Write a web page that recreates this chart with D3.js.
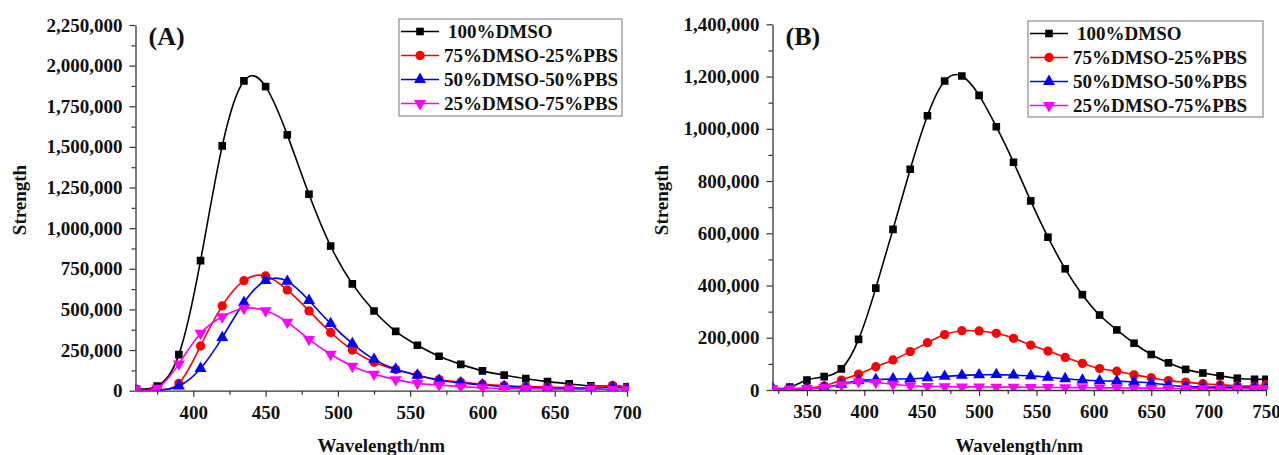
<html>
<head>
<meta charset="utf-8">
<script src="https://d3js.org/d3.v7.min.js"></script>
<style>
  body { margin: 0; background: #fff; }
  svg text { font-family: "Liberation Serif", "Times New Roman", serif; font-weight: bold; fill: #111; }
</style>
</head>
<body>
<div id="chart"></div>
<script>
// ---- data ----
var seriesNames = ["100%DMSO", "75%DMSO-25%PBS", "50%DMSO-50%PBS", "25%DMSO-75%PBS"];
var seriesColors = ["#000000", "#ff0000", "#0000ff", "#ff00ff"];

// panel (A)
var wavelengthA = [360,375,390,405,420,435,450,465,480,495,510,525,540,555,570,585,600,615,630,645,660,675,690,700];
var dmso100A = [10000,28000,222000,800000,1506000,1906000,1871000,1574000,1209000,890000,657000,490000,365000,280000,212000,162000,122000,96000,74000,56000,42000,30000,27000,24000];
var dmso75A  = [5000,8000,45000,275000,522000,677000,706000,620000,491000,358000,250000,175000,130000,95000,68000,52000,40000,31000,25000,22000,20000,20000,33000,18000];
var dmso50A  = [3000,3000,29000,137000,327000,543000,677000,673000,555000,413000,290000,193000,132000,95000,64000,48000,35000,26000,21000,16000,14000,13000,20000,12000];
var dmso25A  = [9000,15000,165000,353000,455000,507000,492000,422000,316000,224000,151000,102000,68000,45000,35000,25000,18000,14000,12000,10000,9000,8000,7000,6000];
var xTicksA = [400,450,500,550,600,650,700];
var yTicksA = [0,250000,500000,750000,1000000,1250000,1500000,1750000,2000000,2250000];

// panel (B)
var wavelengthB = [320,335,350,365,380,395,410,425,440,455,470,485,500,515,530,545,560,575,590,605,620,635,650,665,680,695,710,725,740,750];
var dmso100B = [3000,11000,38000,51000,81000,194000,390000,615000,845000,1050000,1183000,1202000,1128000,1008000,872000,724000,585000,464000,365000,287000,230000,179000,136000,104000,79000,65000,54000,45000,41000,41000];
var dmso75B  = [2000,4000,8000,16000,38000,61000,89000,115000,147000,181000,212000,227000,226000,217000,198000,172000,149000,125000,102000,82000,72000,58000,47000,36000,30000,24000,20000,16000,15000,20000];
var dmso50B  = [8000,3000,5000,10000,22000,36000,40000,42000,43000,47000,52000,56000,58000,59000,57000,54000,49000,43000,38000,35000,34000,31000,27000,19000,13000,11000,11000,10000,10000,8000];
var dmso25B  = [5000,4000,6000,10000,20000,32000,29000,22000,16000,14000,13000,12000,12000,11000,11000,10000,10000,9000,9000,8000,8000,7000,7000,6000,6000,5000,5000,5000,5000,5000];
var xTicksB = [350,400,450,500,550,600,650,700,750];
var yTicksB = [0,200000,400000,600000,800000,1000000,1200000,1400000];

var svg = d3.select("#chart").append("svg")
    .attr("width", 1279)
    .attr("height", 455);

var symbols = [d3.symbolSquare, d3.symbolCircle, d3.symbolTriangle, d3.symbolTriangle];
var symSizes = [58, 68, 62, 62];
var symRot = [0, 0, 0, 180];

function marker(g, i, x, y) {
  g.append("path")
    .attr("d", d3.symbol().type(symbols[i]).size(symSizes[i])())
    .attr("transform", "translate(" + x + "," + y + ") rotate(" + symRot[i] + ")")
    .attr("fill", seriesColors[i]);
}

function drawPanel(p) {
  var x = d3.scaleLinear().domain(p.xDomain).range(p.xRange);
  var y = d3.scaleLinear().domain(p.yDomain).range(p.yRange);
  var g = svg.append("g");

  // minor ticks
  g.append("g").attr("transform", "translate(0," + p.yRange[0] + ")")
    .call(d3.axisBottom(x).tickValues(p.xMinor).tickSize(4).tickFormat("").tickSizeOuter(0))
    .call(function(a) { a.select(".domain").remove(); });
  g.append("g").attr("transform", "translate(" + p.xRange[0] + ",0)")
    .call(d3.axisLeft(y).tickValues(p.yMinor).tickSize(4).tickFormat("").tickSizeOuter(0))
    .call(function(a) { a.select(".domain").remove(); });

  // major axes
  g.append("g").attr("transform", "translate(0," + p.yRange[0] + ")")
    .call(d3.axisBottom(x).tickValues(p.xTicks).tickSize(6).tickPadding(9).tickSizeOuter(0));
  g.append("g").attr("transform", "translate(" + p.xRange[0] + ",0)")
    .call(d3.axisLeft(y).tickValues(p.yTicks).tickSize(6).tickPadding(7).tickSizeOuter(0).tickFormat(d3.format(",")));
  g.selectAll(".tick line").attr("stroke", "#333").attr("stroke-width", 1.2);
  g.selectAll(".domain").attr("stroke", "#333").attr("stroke-width", 1.3);
  g.selectAll(".tick text").attr("font-size", 19).attr("fill", "#111")
    .style("font-family", "'Liberation Serif', serif").style("font-weight", "bold");

  // axis titles
  g.append("text")
    .attr("x", (p.xRange[0] + p.xRange[1]) / 2)
    .attr("y", 452)
    .attr("text-anchor", "middle")
    .attr("font-size", 19)
    .text("Wavelength/nm");
  g.append("text")
    .attr("transform", "translate(" + p.yTitleX + ",200) rotate(-90)")
    .attr("text-anchor", "middle")
    .attr("dy", "0.35em")
    .attr("font-size", 19)
    .text("Strength");
  g.append("text")
    .attr("x", p.xRange[0] + 13)
    .attr("y", 45)
    .attr("font-size", 26)
    .text(p.label);

  // curves + markers
  var clipId = "clip" + p.label.replace(/\W/g, "");
  svg.append("clipPath").attr("id", clipId).append("rect")
    .attr("x", p.xRange[0]).attr("y", 0)
    .attr("width", p.xRange[1] - p.xRange[0] + 2).attr("height", p.yRange[0]);
  var line = d3.line()
    .x(function(d) { return x(d[0]); })
    .y(function(d) { return y(d[1]); })
    .curve(d3.curveNatural);

  p.series.forEach(function(vals, i) {
    var pts = p.wavelength.map(function(w, k) { return [w, vals[k]]; });
    var sg = g.append("g").attr("clip-path", "url(#" + clipId + ")");
    sg.append("path")
      .datum(pts)
      .attr("d", line)
      .attr("fill", "none")
      .attr("stroke", seriesColors[i])
      .attr("stroke-width", 1.6);
    pts.forEach(function(d) { marker(sg, i, x(d[0]), y(d[1])); });
  });

  // legend
  var lg = g.append("g");
  lg.append("rect")
    .attr("x", p.legend[0]).attr("y", p.legend[1])
    .attr("width", p.legend[2]).attr("height", p.legend[3])
    .attr("fill", "#fff").attr("stroke", "#777").attr("stroke-width", 1);
  seriesNames.forEach(function(name, i) {
    var cy = p.legend[1] + 12.5 + i * 24;
    var lx = p.legend[0] + 2;
    lg.append("line")
      .attr("x1", lx).attr("x2", lx + 38)
      .attr("y1", cy).attr("y2", cy)
      .attr("stroke", seriesColors[i]).attr("stroke-width", 1.6);
    marker(lg, i, lx + 19, cy);
    lg.append("text")
      .attr("x", lx + 43 + (i === 0 ? 4 : 0))
      .attr("y", cy)
      .attr("dy", "0.35em")
      .attr("font-size", 19)
      .text(name);
  });
}

drawPanel({
  label: "(A)",
  wavelength: wavelengthA,
  series: [dmso100A, dmso75A, dmso50A, dmso25A],
  xDomain: [360, 700], xRange: [135.5, 627],
  yDomain: [0, 2250000], yRange: [390.7, 25],
  xTicks: xTicksA, xMinor: [375,425,475,525,575,625,675],
  yTicks: yTicksA, yMinor: [125000,375000,625000,875000,1125000,1375000,1625000,1875000,2125000],
  yTitleX: 19,
  legend: [399, 19, 223, 97]
});

drawPanel({
  label: "(B)",
  wavelength: wavelengthB,
  series: [dmso100B, dmso75B, dmso50B, dmso25B],
  xDomain: [320, 750], xRange: [772.5, 1266],
  yDomain: [0, 1400000], yRange: [390, 24.3],
  xTicks: xTicksB, xMinor: [325,375,425,475,525,575,625,675,725],
  yTicks: yTicksB, yMinor: [100000,300000,500000,700000,900000,1100000,1300000],
  yTitleX: 661,
  legend: [1028, 21, 235, 96]
});
</script>
</body>
</html>
